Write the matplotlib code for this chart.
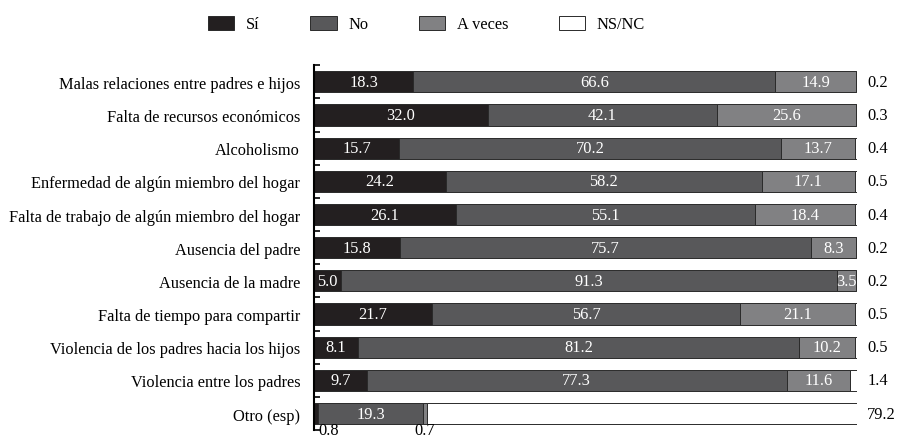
import matplotlib
matplotlib.use("Agg")
import matplotlib.pyplot as plt
from matplotlib.patches import Rectangle

plt.rcParams['font.family'] = ['Liberation Serif', 'DejaVu Serif']

categories = ["Malas relaciones entre padres e hijos",
              "Falta de recursos económicos",
              "Alcoholismo",
              "Enfermedad de algún miembro del hogar",
              "Falta de trabajo de algún miembro del hogar",
              "Ausencia del padre",
              "Ausencia de la madre",
              "Falta de tiempo para compartir",
              "Violencia de los padres hacia los hijos",
              "Violencia entre los padres",
              "Otro (esp)"]
si      = [18.3, 32.0, 15.7, 24.2, 26.1, 15.8, 5.0, 21.7, 8.1, 9.7, 0.8]
no      = [66.6, 42.1, 70.2, 58.2, 55.1, 75.7, 91.3, 56.7, 81.2, 77.3, 19.3]
a_veces = [14.9, 25.6, 13.7, 17.1, 18.4, 8.3, 3.5, 21.1, 10.2, 11.6, 0.7]
nsnc    = [0.2, 0.3, 0.4, 0.5, 0.4, 0.2, 0.2, 0.5, 0.5, 1.4, 79.2]

series = [("Sí", si, "#231f20"),
          ("No", no, "#58585a"),
          ("A veces", a_veces, "#818183"),
          ("NS/NC", nsnc, "white")]

fs = 11.8

fig = plt.figure(figsize=(8.98, 4.39), dpi=100)
ax = fig.add_axes([0.3497, 0.018, 0.6050, 0.831])

ypos = list(range(len(categories)))
left = [0.0] * len(categories)
for name, vals, col in series:
    ax.barh(ypos, vals, left=left, height=0.64, color=col,
            edgecolor="#2a2a2a", linewidth=0.7, label=name)
    for i, v in enumerate(vals):
        if name == "NS/NC":
            ax.text(101.8, i, "%.1f" % v, ha="left", va="center", fontsize=fs)
        elif i == len(categories) - 1 and v < 2:
            # small segments of "Otro" are labelled under the bar
            x = left[i] + 0.8 if name == "Sí" else left[i] + v / 2
            ax.text(x, i + 0.5, "%.1f" % v, ha="left" if name == "Sí" else "center",
                    va="center", fontsize=fs)
        else:
            ax.text(left[i] + v / 2, i, "%.1f" % v, ha="center", va="center",
                    color="white", fontsize=fs)
    left = [l + v for l, v in zip(left, vals)]

ax.set_xlim(0, 100)
ax.set_ylim(10.5, -0.5)
ax.set_yticks(ypos)
ax.set_yticklabels(categories, fontsize=fs)
ax.tick_params(axis="y", which="major", length=0, pad=10)
ax.set_yticks([i - 0.5 for i in range(len(categories) + 1)], minor=True)
ax.tick_params(axis="y", which="minor", direction="in", length=4, width=1.2)
ax.set_xticks([])
for s in ["top", "right", "bottom"]:
    ax.spines[s].set_visible(False)
ax.spines["left"].set_linewidth(1.5)

handles = [Rectangle((0, 0), 1, 1, facecolor=c, edgecolor="#2a2a2a", linewidth=0.7)
           for _, _, c in series]
labels = [n for n, _, _ in series]
fig.legend(handles, labels, loc="center", bbox_to_anchor=(0.475, 0.943), ncol=4,
           frameon=False, fontsize=fs, handlelength=1.6, handleheight=1.0,
           columnspacing=3.1, handletextpad=0.7)

fig.savefig("out.png", dpi=100)
